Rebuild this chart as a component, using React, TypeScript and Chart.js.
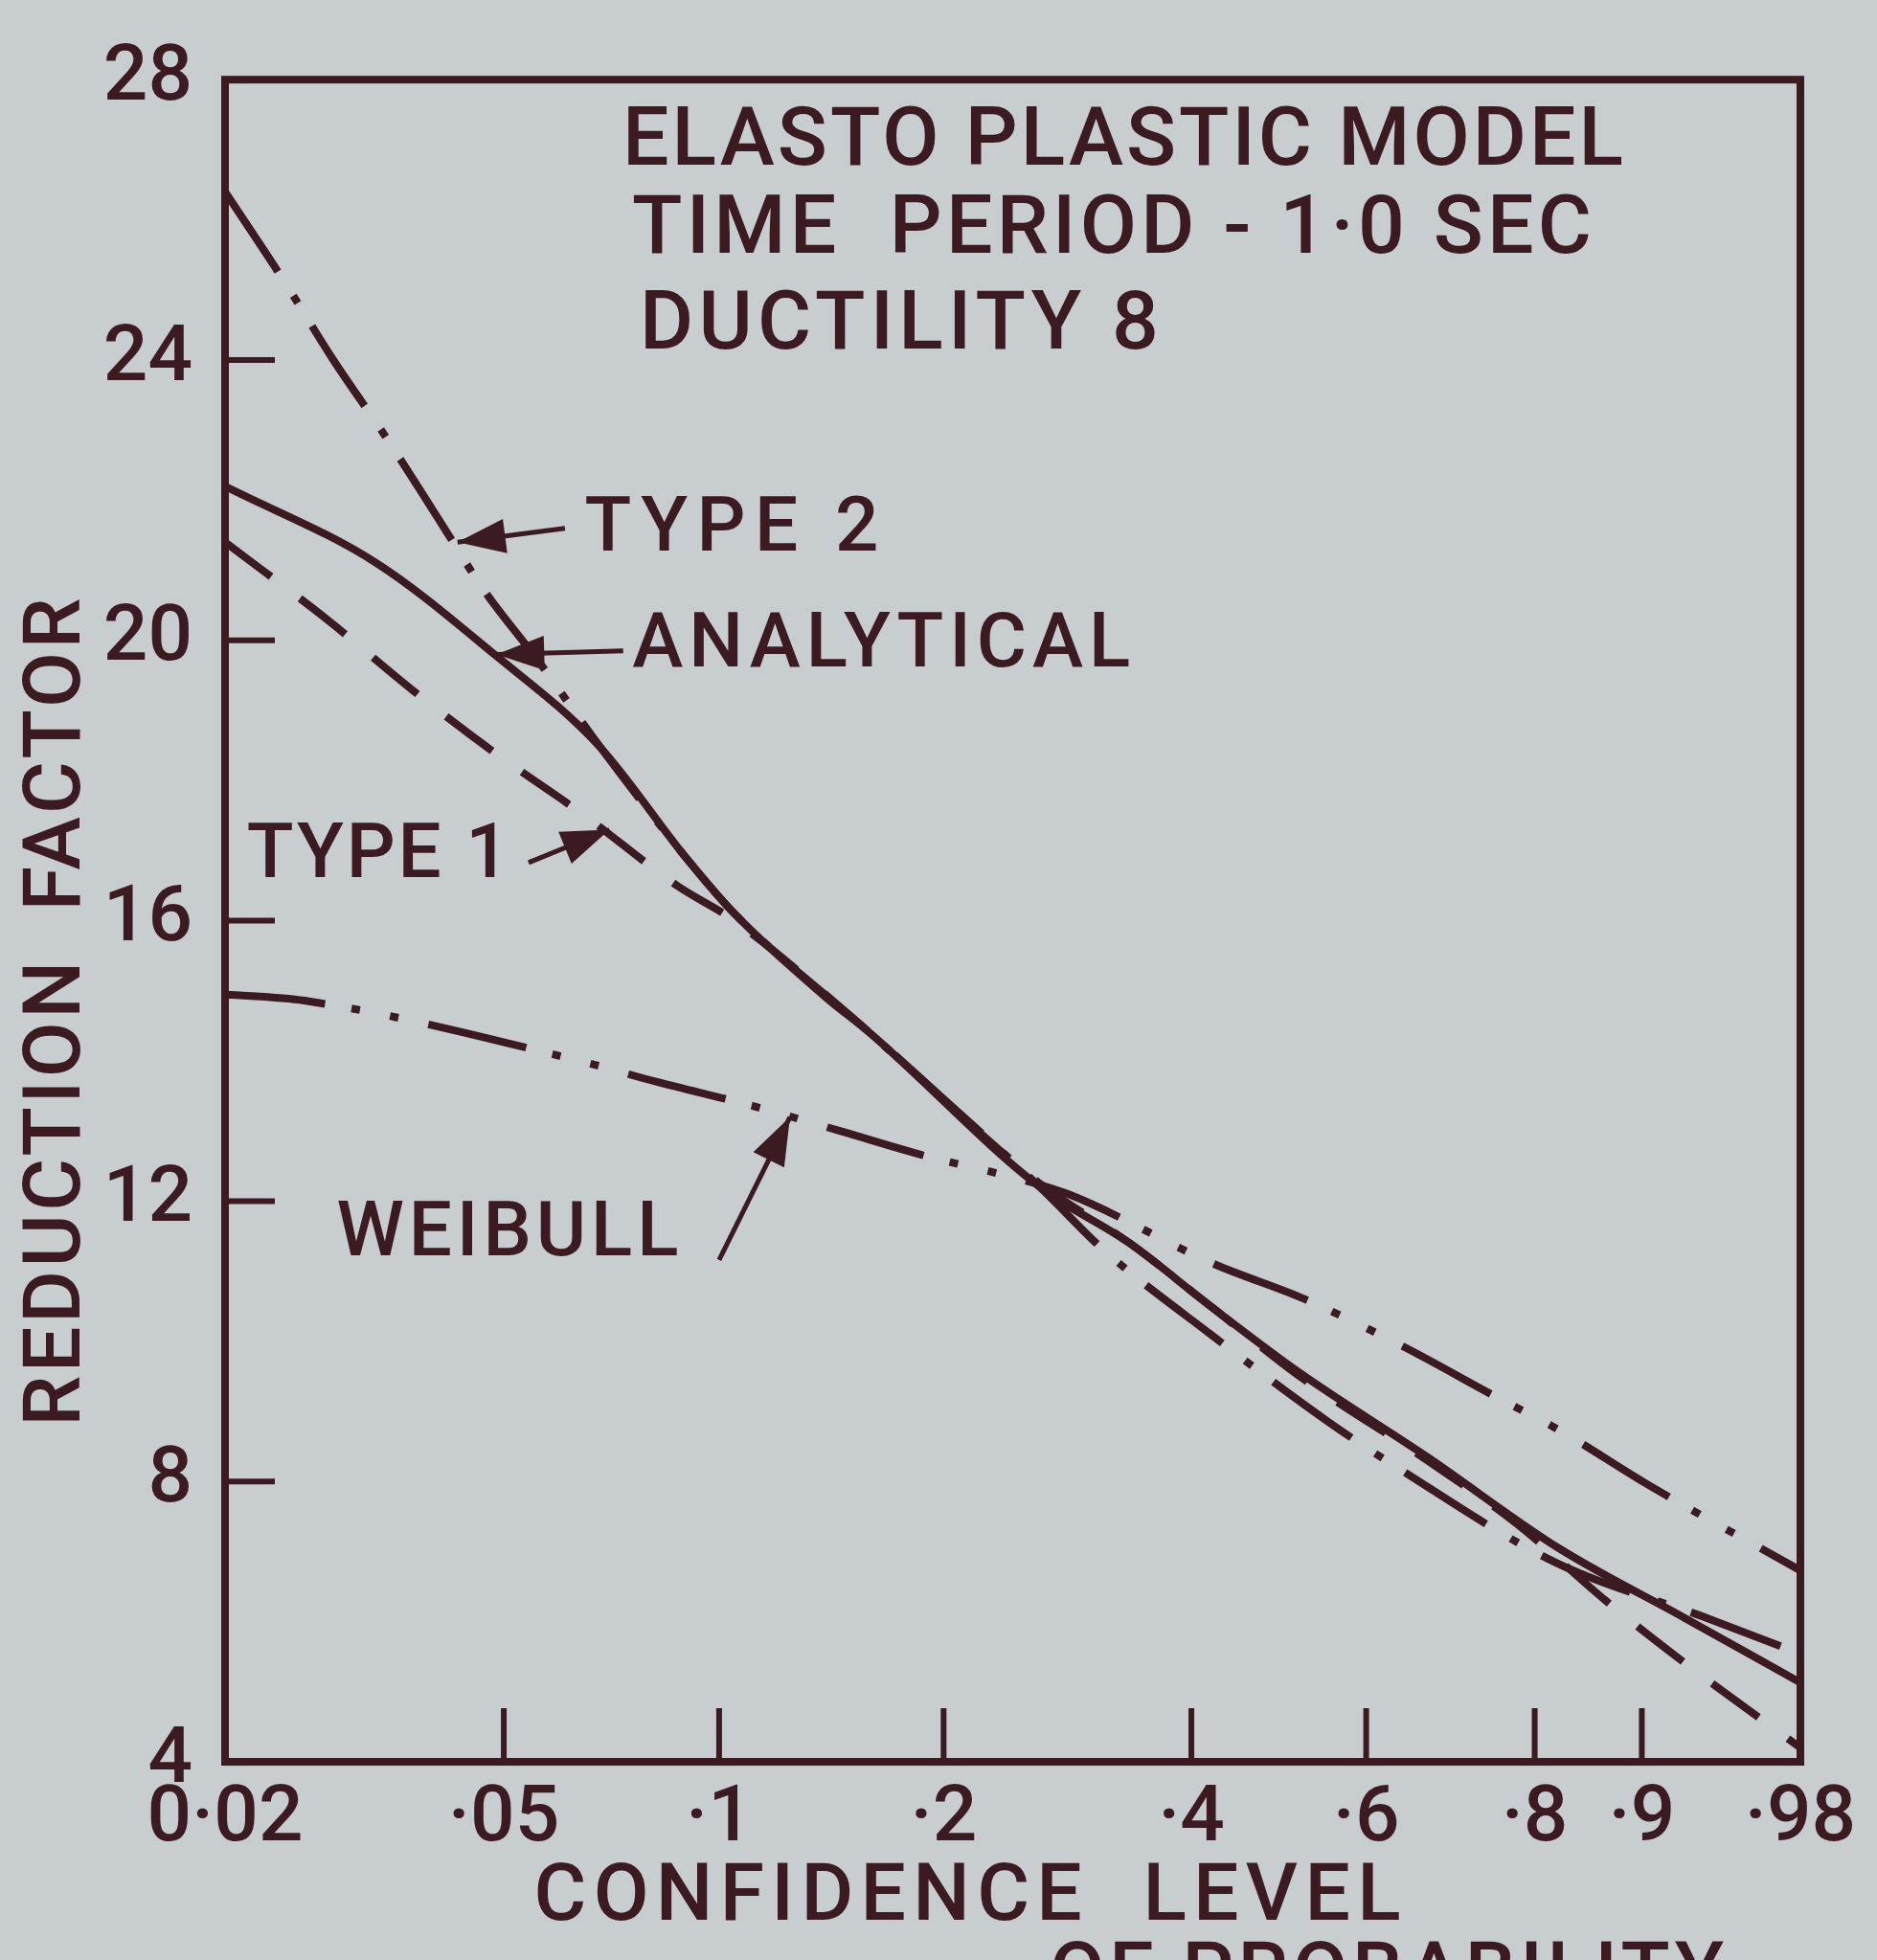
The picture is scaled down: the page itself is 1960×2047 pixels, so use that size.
import React, { useEffect, useRef } from "react";
import { Chart, registerables } from "chart.js";

Chart.register(...registerables);

// ---------- data ----------
const TICK_PROBS = [0.02, 0.05, 0.1, 0.2, 0.4, 0.6, 0.8, 0.9, 0.98];
const TICK_LABELS = ["0·02", "·05", "·1", "·2", "·4", "·6", "·8", "·9", "·98"];
const Y_MIN = 4;
const Y_MAX = 28;
const Y_STEP = 4;

const ANALYTICAL_P = [0.02, 0.033, 0.0485, 0.068, 0.09, 0.105, 0.14, 0.16, 0.265, 0.34, 0.42, 0.52, 0.675, 0.825, 0.93, 0.98];
const ANALYTICAL_R = [22.2, 21.1, 19.8, 18.5, 16.9, 16.1, 14.9, 14.4, 12.2, 11.4, 10.5, 9.55, 8.35, 7.05, 6.05, 5.13];

const TYPE1_P = [0.02, 0.028, 0.037, 0.0485, 0.065, 0.0875, 0.105, 0.16, 0.265, 0.34, 0.42, 0.52, 0.675, 0.78, 0.87, 0.927, 0.98];
const TYPE1_R = [21.4, 20.3, 19.3, 18.4, 17.5, 16.5, 16.0, 14.4, 12.25, 11.4, 10.5, 9.5, 8.3, 7.4, 6.3, 5.46, 4.2];

const TYPE2_P = [0.02, 0.0244, 0.0286, 0.034, 0.04, 0.047, 0.056, 0.067, 0.09, 0.105, 0.16, 0.265, 0.317, 0.42, 0.554, 0.638, 0.821, 0.945, 0.98];
const TYPE2_R = [26.4, 25.1, 24.0, 22.9, 21.8, 20.7, 19.7, 18.6, 16.9, 16.1, 14.4, 12.2, 11.3, 10.1, 8.85, 8.2, 6.85, 6.03, 5.54];

const WEIBULL_P = [0.02, 0.026, 0.064, 0.082, 0.111, 0.146, 0.19, 0.243, 0.287, 0.424, 0.526, 0.643, 0.761, 0.826, 0.905, 0.98];
const WEIBULL_R = [14.95, 14.86, 14.0, 13.7, 13.36, 13.0, 12.64, 12.35, 12.1, 11.1, 10.6, 9.94, 9.18, 8.73, 7.95, 6.73];

const TITLE_LINES = ["ELASTO PLASTIC MODEL", "TIME  PERIOD - 1·0 SEC", "DUCTILITY 8"];
const X_TITLE = "CONFIDENCE  LEVEL";
const X_SUBTITLE = "OF PROBABILITY";
const Y_TITLE = "REDUCTION  FACTOR";

// curve labels: text anchor, arrow tail and arrow tip, in (probability, reduction factor)
const CURVE_LABELS = [
  { text: "TYPE 2", textP: 0.065, textR: 21.55, tailP: 0.061, tailR: 21.6, tipP: 0.043, tipR: 21.4 },
  { text: "ANALYTICAL", textP: 0.0758, textR: 19.9, tailP: 0.0736, tailR: 19.85, tipP: 0.0488, tipR: 19.8 },
  { text: "TYPE 1", textP: 0.0215, textR: 16.9, tailP: 0.0542, tailR: 16.83, tipP: 0.0704, tipR: 17.3 },
  { text: "WEIBULL", textP: 0.0289, textR: 11.5, tailP: 0.1, tailR: 11.16, tipP: 0.125, tipR: 13.2 },
];

// ---------- styles ----------
const INK = "#3b1a22";
const PAPER = "#c8cdcf";
const FONT = "Roboto";
const W = 1960;
const H = 2047;

const weibullX = (p: number) => Math.log(-Math.log(1 - p));
const toPoints = (ps: number[], rs: number[]) => ps.map((p, i) => ({ x: weibullX(p), y: rs[i] }));

function drawSpaced(
  ctx: CanvasRenderingContext2D,
  text: string,
  x: number,
  y: number,
  size: number,
  targetWidth: number,
  align: "left" | "center" = "left",
  rotate = 0,
  baseline: CanvasTextBaseline = "middle"
) {
  ctx.save();
  ctx.font = `500 ${size}px ${FONT}`;
  (ctx as any).letterSpacing = "0px";
  const w0 = ctx.measureText(text).width;
  const n = Array.from(text).length;
  const ls = n > 1 ? (targetWidth - w0) / (n - 1) : 0;
  (ctx as any).letterSpacing = `${ls}px`;
  ctx.textBaseline = baseline;
  ctx.textAlign = "left";
  ctx.fillStyle = INK;
  ctx.translate(x, y);
  if (rotate) ctx.rotate(rotate);
  ctx.fillText(text, align === "center" ? -targetWidth / 2 : 0, 0);
  ctx.restore();
}

const LABEL_WIDTHS: Record<string, number> = { "TYPE 2": 307, ANALYTICAL: 520, "TYPE 1": 274, WEIBULL: 357 };

const paperPlugin = {
  id: "paper",
  beforeDraw(chart: any) {
    const { ctx, width, height } = chart;
    ctx.save();
    ctx.fillStyle = PAPER;
    ctx.fillRect(0, 0, width, height);
    ctx.restore();
  },
  afterDatasetsDraw(chart: any) {
    const { ctx, chartArea: a, scales } = chart;
    const xs = scales.x;
    const ys = scales.y;
    const line = (x1: number, y1: number, x2: number, y2: number) => {
      ctx.beginPath();
      ctx.moveTo(x1, y1);
      ctx.lineTo(x2, y2);
      ctx.stroke();
    };
    ctx.save();
    ctx.strokeStyle = INK;
    ctx.fillStyle = INK;
    ctx.lineCap = "butt";
    // frame
    ctx.lineWidth = 8;
    ctx.strokeRect(a.left, a.top, a.right - a.left, a.bottom - a.top);
    // inward ticks
    ctx.lineWidth = 6;
    for (let v = Y_MIN + Y_STEP; v < Y_MAX; v += Y_STEP) {
      const y = ys.getPixelForValue(v);
      line(a.left, y, a.left + 52, y);
    }
    TICK_PROBS.slice(1, -1).forEach((p) => {
      const x = xs.getPixelForValue(weibullX(p));
      line(x, a.bottom, x, a.bottom - 56);
    });
    // curve labels with arrows
    CURVE_LABELS.forEach((l) => {
      const tx = xs.getPixelForValue(weibullX(l.textP));
      const ty = ys.getPixelForValue(l.textR);
      const ax = xs.getPixelForValue(weibullX(l.tailP));
      const ay = ys.getPixelForValue(l.tailR);
      const bx = xs.getPixelForValue(weibullX(l.tipP));
      const by = ys.getPixelForValue(l.tipR);
      drawSpaced(ctx, l.text, tx, ty, 80, LABEL_WIDTHS[l.text]);
      ctx.lineWidth = 5;
      line(ax, ay, bx, by);
      const ang = Math.atan2(by - ay, bx - ax);
      const len = 50;
      const hw = 18;
      const baseX = bx - Math.cos(ang) * len;
      const baseY = by - Math.sin(ang) * len;
      ctx.beginPath();
      ctx.moveTo(bx, by);
      ctx.lineTo(baseX - Math.sin(ang) * hw, baseY + Math.cos(ang) * hw);
      ctx.lineTo(baseX + Math.sin(ang) * hw, baseY - Math.cos(ang) * hw);
      ctx.closePath();
      ctx.fill();
    });
    // title block
    drawSpaced(ctx, TITLE_LINES[0], 650, 150, 86, 1045);
    drawSpaced(ctx, TITLE_LINES[1], 660, 242, 86, 1002);
    drawSpaced(ctx, TITLE_LINES[2], 668, 342, 86, 542);
    // axis titles
    drawSpaced(ctx, Y_TITLE, 62, 1057, 84, 865, "center", -Math.PI / 2);
    drawSpaced(ctx, X_TITLE, 1010, 1984, 84, 905, "center");
    drawSpaced(ctx, X_SUBTITLE, 1096, 2024, 84, 704, "left", 0, "top");
    ctx.restore();
  },
};

export default function App() {
  const ref = useRef<HTMLCanvasElement>(null);
  useEffect(() => {
    document.body.style.margin = "0";
    let chart: Chart | null = null;
    let cancelled = false;
    const make = () => {
      if (cancelled || !ref.current) return;
      const base = { pointRadius: 0, borderColor: INK, borderWidth: 8, fill: false, cubicInterpolationMode: "monotone" as const, borderCapStyle: "butt" as const };
      chart = new Chart(ref.current, {
        type: "line",
        data: {
          datasets: [
            { ...base, label: "ANALYTICAL", data: toPoints(ANALYTICAL_P, ANALYTICAL_R) },
            { ...base, label: "TYPE 1", data: toPoints(TYPE1_P, TYPE1_R), borderDash: [60, 38] },
            { ...base, label: "TYPE 2", data: toPoints(TYPE2_P, TYPE2_R), borderDash: [100, 30, 9, 28] },
            { ...base, label: "WEIBULL", data: toPoints(WEIBULL_P, WEIBULL_R), borderDash: [105, 28, 9, 32, 9, 32] },
          ],
        },
        options: {
          animation: false,
          responsive: false,
          layout: { padding: { top: 50, right: 80, left: 0, bottom: 0 } },
          plugins: { legend: { display: false }, tooltip: { enabled: false } },
          scales: {
            x: {
              type: "linear",
              min: weibullX(TICK_PROBS[0]),
              max: weibullX(TICK_PROBS[TICK_PROBS.length - 1]),
              afterBuildTicks: (s: any) => {
                s.ticks = TICK_PROBS.map((p) => ({ value: weibullX(p) }));
              },
              afterFit: (s: any) => {
                s.height = 207;
              },
              grid: { display: false, drawTicks: false },
              border: { display: false },
              ticks: {
                autoSkip: false,
                maxRotation: 0,
                minRotation: 0,
                padding: 12,
                color: INK,
                font: { family: FONT, size: 82, weight: "500" },
                callback: (_v: any, i: number) => TICK_LABELS[i],
              },
            },
            y: {
              type: "linear",
              min: Y_MIN,
              max: Y_MAX,
              afterFit: (s: any) => {
                s.width = 235;
              },
              grid: { display: false, drawTicks: false },
              border: { display: false },
              ticks: {
                stepSize: Y_STEP,
                padding: 34,
                color: INK,
                font: { family: FONT, size: 82, weight: "500" },
              },
            },
          },
        },
        plugins: [paperPlugin],
      });
    };
    const f: any = (document as any).fonts;
    if (f && f.load) {
      f.load(`500 84px ${FONT}`).then(make, make);
    } else make();
    return () => {
      cancelled = true;
      if (chart) chart.destroy();
    };
  }, []);
  return (
    <div style={{ width: W, height: H, background: PAPER, overflow: "hidden" }}>
      <canvas ref={ref} width={W} height={H} style={{ display: "block" }} />
    </div>
  );
}
